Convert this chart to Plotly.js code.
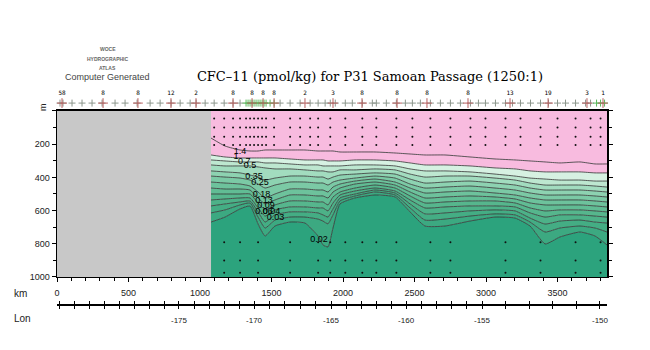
<!DOCTYPE html>
<html><head><meta charset="utf-8">
<script src="https://cdn.plot.ly/plotly-3.0.1.min.js"></script>
<style>html,body{margin:0;padding:0;background:#fff;} #chart{width:650px;height:350px;}</style>
</head><body><div id="chart"></div>
<script>
// ---------------- DATA ----------------
const sectionStartKm = 1077;
const sectionEndKm = 3846;
const maxDepth = 1000;

const distanceKm = [1077,1175,1280,1350,1406,1455,1524,1629,1734,1825,1860,1895,1930,1979,2084,2224,2364,2469,2573,2713,2888,3063,3203,3308,3413,3517,3657,3762,3846];

const levelLabels = ["1.4","1","0.7","0.5","0.35","0.25","0.18","0.13","0.09","0.06","0.04","0.03","0.02"];

const depth_1_4  = [163,211,235,241,241,235,235,235,235,241,241,241,241,247,247,247,253,259,265,265,277,289,295,301,307,313,307,319,319];
const depth_1_0  = [265,277,283,283,283,283,283,289,295,295,295,301,301,301,295,295,301,313,325,325,331,343,349,361,367,367,367,373,373];
const depth_0_7  = [295,301,307,307,307,313,313,319,325,325,331,331,331,331,325,325,331,349,361,361,367,380,392,404,410,416,416,422,422];
const depth_0_5  = [325,331,331,331,337,343,349,349,355,361,361,367,367,355,355,349,355,380,398,392,392,404,416,434,446,446,446,452,458];
const depth_0_35 = [361,367,373,386,398,416,404,392,392,398,398,410,398,386,380,373,380,410,434,428,422,434,446,464,476,476,476,482,488];
const depth_0_25 = [392,398,404,416,440,464,446,428,428,434,434,446,428,416,404,392,404,440,464,458,452,464,476,494,506,506,506,512,518];
const depth_0_18 = [428,434,440,452,488,524,500,470,470,476,476,488,458,440,422,410,428,464,494,488,482,494,506,524,536,536,536,542,548];
const depth_0_13 = [464,470,470,476,524,560,536,506,506,512,512,524,488,464,440,428,446,488,524,518,512,518,530,554,566,566,566,572,578];
const depth_0_09 = [500,500,500,500,554,596,566,542,542,548,548,566,518,488,464,446,464,512,554,548,542,542,554,584,602,596,596,602,608];
const depth_0_06 = [536,530,524,524,584,633,596,578,578,584,584,602,554,506,482,464,482,536,584,578,572,572,578,614,639,626,626,633,639];
const depth_0_04 = [572,560,548,542,608,669,626,608,608,614,626,639,590,524,500,476,494,560,620,614,602,596,602,645,681,663,657,669,675];
const depth_0_03 = [614,596,566,554,639,705,657,639,639,651,663,680,626,542,512,488,506,584,657,651,633,620,626,669,729,705,693,705,729];
const depth_0_02 = [669,639,590,572,681,753,693,669,675,753,807,819,705,560,524,506,518,608,693,693,663,639,645,693,801,759,729,753,807];

// contour label positions (km, depth)
const labelPosKm    = [1280,1252,1310,1350,1378,1420,1431,1448,1462,1448,1500,1528,1832];
const labelPosDepth = [245,277,305,331,398,434,506,542,572,605,610,645,777];

// station positions (top crosses), numbered stations
const stationKm = [21,42,105,175,245,315,406,476,560,651,721,798,861,931,973,1036,1099,1169,1231,1280,1560,1630,1700,1770,1826,1875,1911,1946,2016,2065,2135,2205,2233,2303,2373,2436,2485,2541,2611,2681,2751,2821,2891,2947,2996,3066,3136,3185,3241,3311,3381,3437,3500,3556,3626,3696,3731];
const stationGreenKm = [1322,1336,1350,1364,1378,1392,1406,1420,1434,1448,1462,1490,1518,3773,3801,3829];
const stationLabelKm = [35,322,566,797,972,1231,1364,1441,1518,1734,1930,2133,2378,2587,2874,3168,3434,3706,3818];
const stationLabelText = ["58","8","8","12","2","8","8","8","8","2","3","8","8","8","8","13","19","3","1"];

// bottle sample dots
const dotStationKm = [1099,1169,1231,1280,1322,1350,1378,1406,1434,1462,1518,1630,1700,1770,1826,1911,2016,2135,2233,2373,2485,2611,2751,2891,2996,3136,3241,3381,3500,3626,3731,3801];
const dotShallowDepth = [45,100,155,205];
const dotDeepStationKm = [1169,1280,1406,1630,1826,1911,2016,2135,2233,2373,2611,2751,3136,3381,3626,3801];
const dotDeepDepth = [790,900,975];

// axes
const depthTickVals = [0,200,400,600,800,1000];
const depthTickText = ["","200","400","600","800","1000"];
const kmTickVals = [0,500,1000,1500,2000,2500,3000,3500];
const lonTickKm = [15,121,227,332,438,543,649,755,853,958,1063,1168,1273,1378,1485,1593,1701,1808,1916,2021,2126,2231,2336,2441,2547,2653,2759,2866,2972,3137,3302,3467,3632,3797];
const lonTickText = ["","","","","","","","","-175","","","","","-170","","","","","-165","","","","","-160","","","","","-155","","","","","-150"];

// ---------------- STYLE ----------------
const contourDepths = [depth_1_4,depth_1_0,depth_0_7,depth_0_5,depth_0_35,depth_0_25,depth_0_18,depth_0_13,depth_0_09,depth_0_06,depth_0_04,depth_0_03,depth_0_02];
const bandColors = ["#f8bbdf","#f8bbdf","#d6f1e2","#bde7d0","#a2dcbf","#8dd2b1","#7bc9a5","#6dc29c","#61bc94","#56b68d","#4db188","#44ad84","#3ca981"];
const bottomColor = "#2ca37d";
const sansFont = "Liberation Sans, Arial, sans-serif";

const traces = [];
traces.push({x:[sectionStartKm, sectionEndKm], y:[0,0], mode:'lines', line:{width:0, color:'rgba(0,0,0,0)'}, hoverinfo:'skip', showlegend:false});
contourDepths.forEach((d,i)=>{
  traces.push({x:distanceKm, y:d, mode:'lines', line:{color:'#333333', width:0.8, shape:'spline', smoothing:0.5},
    fill:'tonexty', fillcolor:bandColors[i], hoverinfo:'skip', showlegend:false});
});
traces.push({x:[sectionStartKm, sectionEndKm], y:[maxDepth,maxDepth], mode:'lines', line:{width:0, color:'rgba(0,0,0,0)'},
  fill:'tonexty', fillcolor:bottomColor, hoverinfo:'skip', showlegend:false});

// dots
const dx=[], dy=[];
dotStationKm.forEach(k=>dotShallowDepth.forEach(d=>{dx.push(k);dy.push(d);}));
dotDeepStationKm.forEach(k=>dotDeepDepth.forEach(d=>{dx.push(k);dy.push(d);}));
traces.push({x:dx, y:dy, mode:'markers', marker:{size:2, color:'#111'}, hoverinfo:'skip', showlegend:false});

// contour labels
traces.push({x:labelPosKm, y:labelPosDepth, mode:'text', text:levelLabels, textfont:{family:sansFont, size:9, color:'#000'},
  hoverinfo:'skip', showlegend:false});

// station strip above the section (own y axis)
traces.push({x:stationKm, y:stationKm.map(()=>0.24), yaxis:'y3', mode:'markers', cliponaxis:false,
  marker:{symbol:'cross-thin', size:5, line:{width:1, color:'#8c968c'}}, hoverinfo:'skip', showlegend:false});
traces.push({x:stationGreenKm, y:stationGreenKm.map(()=>0.24), yaxis:'y3', mode:'markers', cliponaxis:false,
  marker:{symbol:'cross-thin', size:5, line:{width:1, color:'#5cb85c'}}, hoverinfo:'skip', showlegend:false});
traces.push({x:stationLabelKm, y:stationLabelKm.map(()=>0.24), yaxis:'y3', mode:'markers', cliponaxis:false,
  marker:{symbol:'cross-thin', size:7, line:{width:1, color:'#b86060'}}, hoverinfo:'skip', showlegend:false});
traces.push({x:stationLabelKm, y:stationLabelKm.map(()=>0.66), yaxis:'y3', mode:'text', text:stationLabelText, cliponaxis:false,
  textfont:{family:'DejaVu Sans Mono, monospace', size:6, color:'#000'}, hoverinfo:'skip', showlegend:false});

// lon axis carrier (invisible)
traces.push({x:[0], y:[0], xaxis:'x2', yaxis:'y2', mode:'markers', marker:{size:0.1, color:'rgba(0,0,0,0)'}, hoverinfo:'skip', showlegend:false});

const layout = {
  width:650, height:350,
  margin:{l:57, r:43, t:85, b:27},
  paper_bgcolor:'#fff', plot_bgcolor:'rgba(0,0,0,0)',
  showlegend:false,
  title:{text:'CFC\u201311 (pmol/kg) for P31 Samoan Passage (1250:1)', font:{family:'DejaVu Serif, serif', size:13, color:'#000'},
    xref:'paper', x:0.569, xanchor:'center', yref:'container', y:0.783, yanchor:'middle'},
  xaxis:{range:[0, sectionEndKm], tickvals:kmTickVals, ticks:'outside', ticklen:4, tickcolor:'#000',
    showline:true, linecolor:'#000', linewidth:1.5, mirror:true, showgrid:false, zeroline:false,
    minor:{dtick:100, ticks:'outside', ticklen:3, tickcolor:'#000'},
    tickfont:{family:sansFont, size:9, color:'#222'}, ticklabelstandoff:3, anchor:'y'},
  yaxis:{domain:[0.1933,0.8908], range:[maxDepth,0], tickvals:depthTickVals, ticktext:depthTickText, ticks:'outside', ticklen:4, tickcolor:'#000',
    showline:true, linecolor:'#000', linewidth:1.5, mirror:'ticks', showgrid:false, zeroline:false,
    minor:{dtick:100, ticks:'outside', ticklen:3, tickcolor:'#000'},
    tickfont:{family:sansFont, size:9, color:'#222'}},
  xaxis2:{range:[0, sectionEndKm], anchor:'y2', tickvals:lonTickKm, ticktext:lonTickText, ticks:'outside', ticklen:3, tickcolor:'#000',
    showline:true, linecolor:'#000', linewidth:1, mirror:'ticks', showgrid:false, zeroline:false,
    tickfont:{family:sansFont, size:8, color:'#222'}, ticklabelstandoff:4},
  yaxis2:{domain:[0.0756,0.0766], range:[0,1], visible:false, fixedrange:true},
  yaxis3:{domain:[0.9,1], range:[0,1], visible:false, anchor:'x', fixedrange:true},
  shapes:[{type:'rect', xref:'x', yref:'y', x0:0, x1:sectionStartKm, y0:0, y1:maxDepth, fillcolor:'#c8c8c8', line:{width:0}, layer:'below'}],
  annotations:[
    {text:'km', xref:'paper', yref:'paper', x:-0.067, y:0.126, xanchor:'center', yanchor:'middle', showarrow:false, font:{family:sansFont, size:10, color:'#222'}},
    {text:'Lon', xref:'paper', yref:'paper', x:-0.0636, y:0.021, xanchor:'center', yanchor:'middle', showarrow:false, font:{family:sansFont, size:10, color:'#222'}},
    {text:'m', xref:'paper', yref:'paper', x:-0.0255, y:0.9076, xanchor:'center', yanchor:'middle', showarrow:false, textangle:-90, font:{family:sansFont, size:9, color:'#222'}},
    {text:'<b>WOCE</b>', xref:'paper', yref:'paper', x:0.0927, y:1.151, xanchor:'center', yanchor:'middle', showarrow:false, font:{family:sansFont, size:5, color:'#666'}},
    {text:'<b>HYDROGRAPHIC</b>', xref:'paper', yref:'paper', x:0.0927, y:1.109, xanchor:'center', yanchor:'middle', showarrow:false, font:{family:sansFont, size:5, color:'#666'}},
    {text:'<b>ATLAS</b>', xref:'paper', yref:'paper', x:0.0927, y:1.071, xanchor:'center', yanchor:'middle', showarrow:false, font:{family:sansFont, size:5, color:'#666'}},
    {text:'Computer Generated', xref:'paper', yref:'paper', x:0.0927, y:1.034, xanchor:'center', yanchor:'middle', showarrow:false, font:{family:sansFont, size:9, color:'#444'}}
  ]
};
Plotly.newPlot('chart', traces, layout, {staticPlot:true, displayModeBar:false});
</script></body></html>
